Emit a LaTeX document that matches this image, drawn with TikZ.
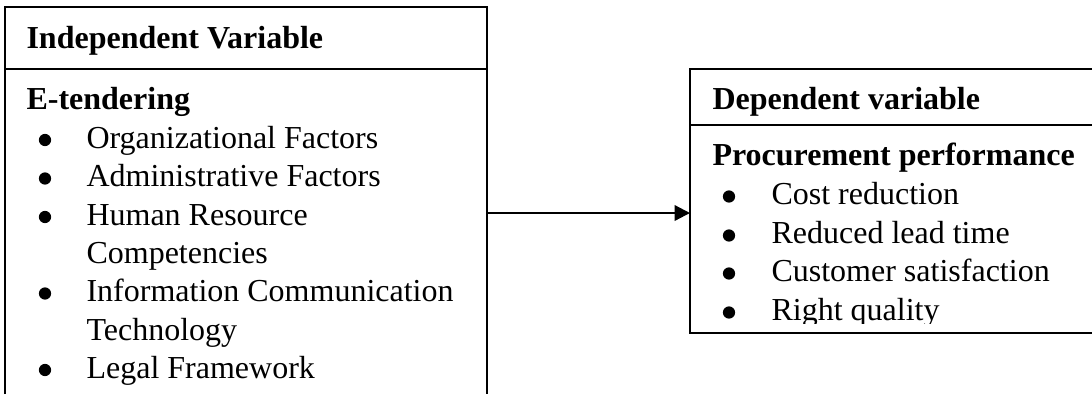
\documentclass[tikz,border=0pt]{standalone}
\usepackage{fontspec}
\setmainfont{Liberation Serif}
\usetikzlibrary{arrows.meta}
\begin{document}
\begin{tikzpicture}[x=0.375pt,y=-0.375pt,
  frame/.style={line width=0.85pt},
  txt/.style={anchor=base west, inner sep=0pt, font=\fontsize{12}{14.4}\selectfont},
  head/.style={anchor=base west, inner sep=0pt, font=\fontsize{12}{14.4}\selectfont\bfseries},
  dot/.style={circle, fill=black, draw=none, inner sep=0pt, minimum size=4.6pt}
]
\useasboundingbox (0,0) rectangle (1092,394);
% left box (open at the bottom)
\draw[frame] (5,394) -- (5,7) -- (487,7) -- (487,394);
\draw[frame] (5,69) -- (487,69);
\node[head] (ivh) at (26,48) {Independent Variable};
\node[head] (ivt) at (26,109) {E-tendering};
\node[dot] (b1) at (45,140) {};
\node[txt] (l1) at (86,148) {Organizational Factors};
\node[dot] (b2) at (45,178.5) {};
\node[txt] (l2) at (86,186.5) {Administrative Factors};
\node[dot] (b3) at (45,217) {};
\node[txt] (l3) at (86,225) {Human Resource};
\node[txt] (l3b) at (86,263) {Competencies};
\node[dot] (b4) at (45,293.5) {};
\node[txt] (l4) at (86,301.5) {Information Communication};
\node[txt] (l4b) at (86,340) {Technology};
\node[dot] (b5) at (45,370) {};
\node[txt] (l5) at (86,378) {Legal Framework};
% right box (open at the right)
\draw[frame] (1092,69) -- (690,69) -- (690,333) -- (1092,333);
\draw[frame] (690,125) -- (1092,125);
\begin{scope}
\clip (690,69) rectangle (1092,323);
\node[head] (dvh) at (712,109) {Dependent variable};
\node[head] (dvt) at (712,165) {Procurement performance};
\node[dot] (r1) at (729,196.5) {};
\node[txt] (p1) at (771,204) {Cost reduction};
\node[dot] (r2) at (729,235.5) {};
\node[txt] (p2) at (771,243) {Reduced lead time};
\node[dot] (r3) at (729,273.5) {};
\node[txt] (p3) at (771,281) {Customer satisfaction};
\node[dot] (r4) at (729,312.5) {};
\node[txt] (p4) at (771,320) {Right quality};
\end{scope}
% connector
\coordinate (la) at (487,213);
\coordinate (ra) at (690,213);
\draw[frame, -{Triangle[length=5.8pt,width=5.8pt]}] (la) -- (ra);
\end{tikzpicture}
\end{document}
